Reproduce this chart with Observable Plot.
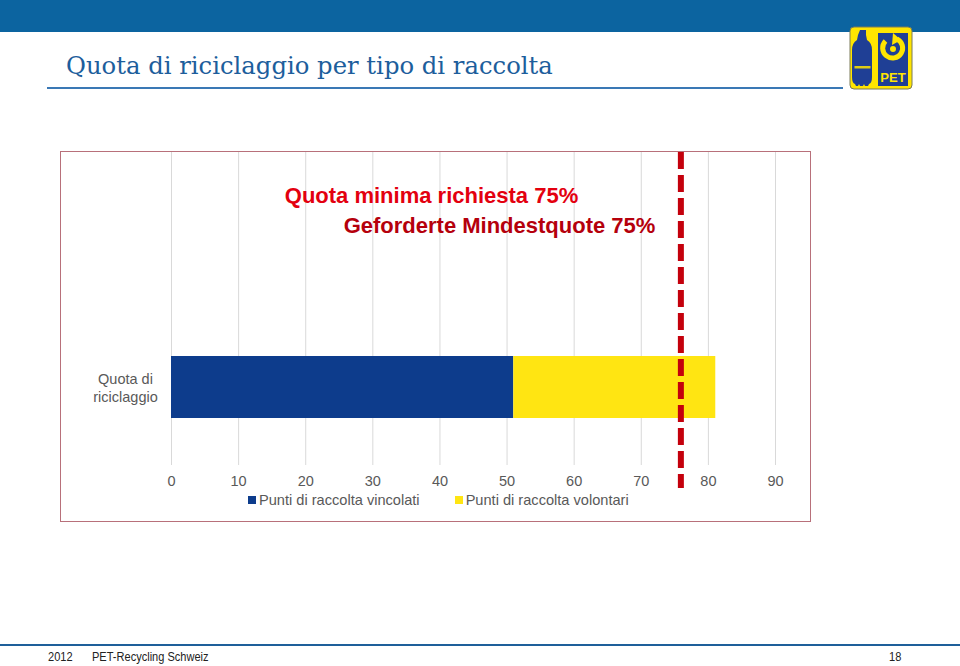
<!DOCTYPE html>
<html>
<head>
<meta charset="utf-8">
<script src="https://cdn.jsdelivr.net/npm/d3@7"></script>
<script src="https://cdn.jsdelivr.net/npm/@observablehq/plot@0.6"></script>
<style>
  html, body { margin: 0; padding: 0; background: #fff; }
  #page { position: relative; width: 960px; height: 666px; overflow: hidden; background: #fff; font-family: "Liberation Sans", Arial, sans-serif; }
  #topband { position: absolute; left: 0; top: 0; width: 960px; height: 32px; background: #0c64a0; }
  #title { position: absolute; left: 66px; top: 54px; font-family: "DejaVu Serif", "Liberation Serif", serif; font-size: 24.3px; line-height: 1; color: #1d5e9c; white-space: nowrap; }
  #titleline { position: absolute; left: 47px; top: 87px; width: 796px; height: 2px; background: #3a78b5; }
  #logo { position: absolute; left: 849px; top: 26px; }
  #chart { position: absolute; left: 60px; top: 151px; width: 750px; height: 370px; }
  #frame { position: absolute; left: 60px; top: 151px; width: 751px; height: 371px; box-sizing: border-box; border: 1.5px solid #b8707a; pointer-events: none; }
  #legend { position: absolute; left: 248px; top: 492px; display: flex; font-size: 14.6px; color: #595959; white-space: nowrap; }
  .item { display: flex; align-items: center; }
  .sw { width: 8px; height: 8px; margin-right: 3px; }
  #footline { position: absolute; left: 0; top: 644px; width: 960px; height: 2px; background: #1e5f9a; }
  .foot { position: absolute; top: 650px; font-family: "Liberation Sans Narrow", "Liberation Sans", Arial, sans-serif; font-size: 12px; color: #222; line-height: 14px; transform: scaleX(0.92); transform-origin: left center; white-space: nowrap; }
</style>
</head>
<body>
<div id="page">
  <div id="topband"></div>
  <div id="title">Quota di riciclaggio per tipo di raccolta</div>
  <div id="titleline"></div>
  <svg id="logo" width="66" height="66" viewBox="0 0 66 66">
    <rect x="1" y="1" width="62" height="62" rx="4" fill="#ffe500" stroke="#7a7a5a" stroke-width="1"/>
    <path d="M11 4 h6 v5 l1 5 q5 3 5 10 v27 q0 6 -3 7 l-1 2 h-3 l-1 -2 l-1 2 h-3 l-1 -2 l-1 2 h-2 l-1 -2 q-3 -1 -3 -7 v-27 q0 -7 5 -10 l1 -5 z" fill="#1f3f95"/>
    <rect x="5.5" y="40" width="16" height="2.5" fill="#ffe500" opacity="0.85"/>
    <rect x="29" y="7" width="30" height="53" fill="#1f3f95"/>
    <path d="M36.5 15 A10 10 0 1 0 48 13" fill="none" stroke="#ffe500" stroke-width="5"/>
    <path d="M44 7 L52 14 L43 19 Z" fill="#ffe500"/>
    <circle cx="44" cy="23" r="3" fill="#ffe500"/>
    <text x="44" y="56" text-anchor="middle" font-family="Liberation Sans, Arial, sans-serif" font-weight="bold" font-size="13" fill="#ffe500">PET</text>
  </svg>
  <div id="chart"></div>
  <div id="frame"></div>
  <div id="legend"></div>
  <div id="footline"></div>
  <div class="foot" style="left:48px">2012</div>
  <div class="foot" style="left:92px">PET-Recycling Schweiz</div>
  <div class="foot" style="left:889px">18</div>
</div>
<script>
// ---- data ----
const categories = ["Quota di riciclaggio"];
const seriesNames = ["Punti di raccolta vincolati", "Punti di raccolta volontari"];
const seriesValues = [51, 30.1];
const seriesColors = ["#0d3c8c", "#ffe512"];
const xTicks = [0, 10, 20, 30, 40, 50, 60, 70, 80, 90];
const quotaLabel = 75;          // labelled minimum quota (%)
const quotaLinePos = [75.9];    // where the dashed line is drawn in the picture
const annotations = ["Quota minima richiesta " + quotaLabel + "%", "Geforderte Mindestquote " + quotaLabel + "%"];

const rows = seriesNames.map((s, i) => ({cat: categories[0], series: s, value: seriesValues[i]}));

const chart = Plot.plot({
  width: 750,
  height: 370,
  marginLeft: 111,
  marginRight: 35,
  marginTop: 0,
  marginBottom: 56,
  style: {fontFamily: "Liberation Sans, Arial, sans-serif", color: "#595959", background: "transparent"},
  x: {domain: [0, 90], label: null},
  y: {domain: categories, range: [205, 267], padding: 0, label: null},
  color: {domain: seriesNames, range: seriesColors},
  marks: [
    Plot.gridX(xTicks, {stroke: "#d9d9d9", strokeOpacity: 1, strokeWidth: 1}),
    Plot.barX(rows, Plot.stackX({y: "cat", x: "value", fill: "series", order: seriesNames})),
    Plot.ruleX(quotaLinePos, {stroke: "#c4000c", strokeWidth: 6, strokeDasharray: "17,6", insetTop: 1, insetBottom: -23}),
    Plot.text([annotations[0]], {text: d => d, frameAnchor: "top", lineAnchor: "top", dx: -42, dy: 36, fill: "#e3000f", fontSize: 22, fontWeight: "bold"}),
    Plot.text([annotations[1]], {text: d => d, frameAnchor: "top", lineAnchor: "top", dx: 26, dy: 66, fill: "#b5000c", fontSize: 22, fontWeight: "bold"}),
    Plot.axisX(xTicks, {tickSize: 0, tickPadding: 10, fontSize: 14.5, fill: "#595959", label: null}),
    Plot.axisY({tickSize: 0, tickPadding: 46, textAnchor: "middle", fontSize: 14.5, lineHeight: 1.2, fill: "#595959", label: null, tickFormat: d => d.replace(" di ", " di\n")})
  ]
});
document.getElementById("chart").appendChild(chart);

const legend = d3.select("#legend");
seriesNames.forEach((s, i) => {
  const it = legend.append("div").attr("class", "item").style("margin-right", i === 0 ? "35px" : "0px");
  it.append("div").attr("class", "sw").style("background", seriesColors[i]);
  it.append("span").text(s);
});
</script>
</body>
</html>
